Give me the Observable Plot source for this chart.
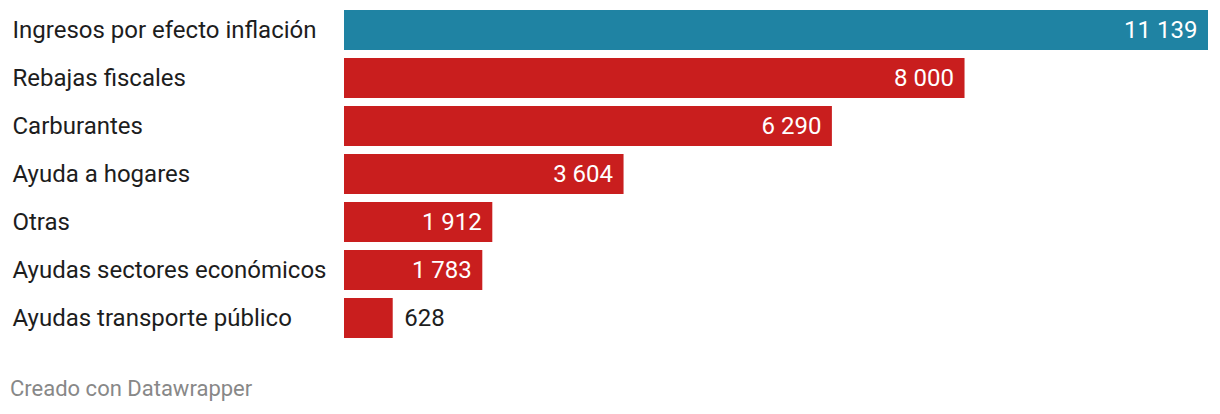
<!DOCTYPE html>
<html>
<head>
<meta charset="utf-8">
<script src="https://cdn.jsdelivr.net/npm/d3@7"></script>
<script src="https://cdn.jsdelivr.net/npm/@observablehq/plot@0.6"></script>
<style>
  body { margin: 0; background: #fff; font-family: Roboto, sans-serif; }
  #chart svg { display: block; }
  .footer { font-family: Roboto, sans-serif; font-size: 22px; color: #888; margin: 27px 0 0 10px; line-height: 24px; }
</style>
</head>
<body>
<div id="chart"></div>
<div class="footer">Creado con Datawrapper</div>
<script>
const categories = [
  "Ingresos por efecto inflación",
  "Rebajas fiscales",
  "Carburantes",
  "Ayuda a hogares",
  "Otras",
  "Ayudas sectores económicos",
  "Ayudas transporte público"
];
const values = [11139, 8000, 6290, 3604, 1912, 1783, 628];
const colors = ["#1f83a3", "#c91e1e", "#c91e1e", "#c91e1e", "#c91e1e", "#c91e1e", "#c91e1e"];

const data = categories.map((c, i) => ({cat: c, value: values[i], color: colors[i]}));
const fmt2 = v => d3.format(",d")(v).replace(/,/g, " ");

const inside = data.filter(d => d.value >= 1000);
const outside = data.filter(d => d.value < 1000);

const chart = Plot.plot({
  width: 1220,
  height: 350,
  marginLeft: 344,
  marginRight: 12,
  marginTop: 10,
  marginBottom: 12,
  x: {domain: [0, 11139], axis: null},
  y: {domain: categories, axis: null, paddingInner: 1/6, paddingOuter: 0},
  style: {fontFamily: "Roboto, sans-serif"},
  marks: [
    Plot.barX(data, {y: "cat", x: "value", fill: "color"}),
    Plot.text(data, {y: "cat", text: "cat", frameAnchor: "left", textAnchor: "start", dx: -332, fontSize: 24, fill: "#1d1d1d"}),
    Plot.text(inside, {y: "cat", x: "value", text: d => fmt2(d.value), textAnchor: "end", dx: -11, fontSize: 24, fill: "#fff"}),
    Plot.text(outside, {y: "cat", x: "value", text: d => fmt2(d.value), textAnchor: "start", dx: 11, fontSize: 24, fill: "#1d1d1d"})
  ]
});
document.getElementById("chart").appendChild(chart);
</script>
</body>
</html>
